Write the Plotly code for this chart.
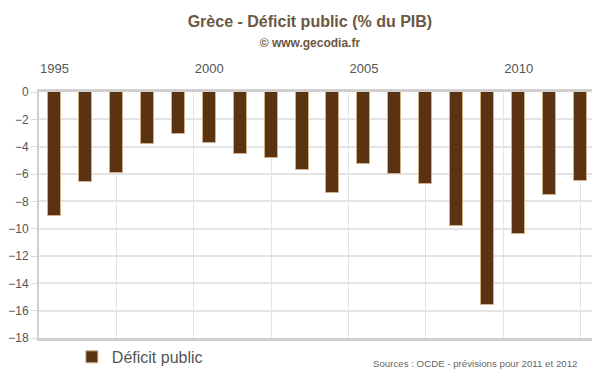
import plotly.graph_objects as go

years = list(range(1995, 2013))
deficit = [-9.1, -6.6, -5.9, -3.8, -3.1, -3.7, -4.5, -4.8, -5.7, -7.4,
           -5.3, -6.0, -6.7, -9.8, -15.6, -10.4, -7.5, -6.5]
label_years = [1995, 2000, 2005, 2010]
grid_years = [1997, 1999.5, 2002, 2004.5, 2007, 2009.5, 2012]
y_ticks = [0, -2, -4, -6, -8, -10, -12, -14, -16, -18]

fig = go.Figure()
fig.add_trace(go.Bar(
    x=years, y=deficit, width=0.42, name="Déficit public",
    marker=dict(color="#5a3412", line=dict(color="#d2b08a", width=1)),
    xaxis="x", yaxis="y",
))
# invisible trace to host the top label axis
fig.add_trace(go.Scatter(x=years, y=deficit, mode="markers", marker=dict(opacity=0),
                         showlegend=False, hoverinfo="skip", xaxis="x2", yaxis="y"))

fig.update_layout(
    width=592, height=364,
    margin=dict(l=31, r=4, t=84, b=34, autoexpand=False),
    paper_bgcolor="white", plot_bgcolor="white",
    font=dict(family="Liberation Sans, Arial, sans-serif", color="#555555"),
    title=dict(text="<b>Grèce - Déficit public (% du PIB)</b><br><span style='font-size:12px'><b>© www.gecodia.fr</b></span>",
               x=0.51, xanchor="center", y=0.949, yanchor="top",
               font=dict(size=16, color="#6b5843")),
    xaxis=dict(range=[1994.5, 2012.5], tickvals=grid_years, showticklabels=False,
               showgrid=True, gridcolor="#e4e4e4", gridwidth=1, automargin=False,
               showline=True, linecolor="#cfcfcf", linewidth=3, mirror=True,
               ticks="", zeroline=False),
    xaxis2=dict(range=[1994.5, 2012.5], overlaying="x", side="top", anchor="y",
                tickvals=label_years, ticktext=[str(v) for v in label_years],
                showgrid=False, showline=False, ticks="outside", ticklen=13,
                tickcolor="rgba(0,0,0,0)", zeroline=False, automargin=False,
                tickfont=dict(size=13, color="#555555")),
    yaxis=dict(range=[-18, 0], tickvals=y_ticks, showgrid=True, gridcolor="#e4e4e4",
               gridwidth=2, showline=True, linecolor="#cfcfcf", linewidth=2,
               mirror=True, ticks="outside", ticklen=6, tickcolor="#dcdcdc",
               zeroline=False, automargin=False, tickfont=dict(size=12, color="#555555")),
    legend=dict(orientation="h", x=0.059, y=-0.077, xanchor="left", yanchor="middle",
                font=dict(size=16, color="#555555"), bgcolor="rgba(0,0,0,0)"),
    showlegend=True,
    bargap=0,
)
fig.add_annotation(text="Sources : OCDE - prévisions pour 2011 et 2012",
                   xref="paper", yref="paper", x=0.9695, y=-0.102,
                   xanchor="right", yanchor="middle", showarrow=False,
                   font=dict(size=9.7, color="#666666"))

fig.write_html("out.html")
